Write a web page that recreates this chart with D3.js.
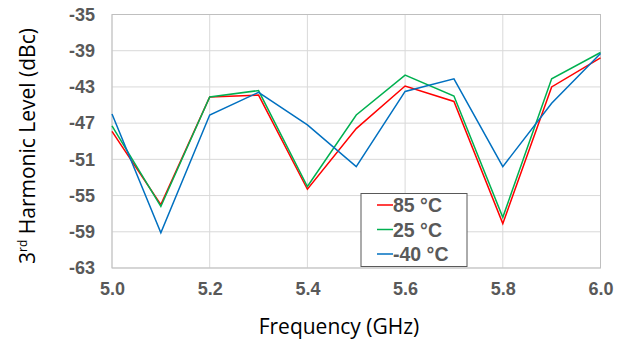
<!DOCTYPE html>
<html>
<head>
<meta charset="utf-8">
<script src="https://cdn.jsdelivr.net/npm/d3@7"></script>
<style>
  body { margin: 0; background: #fff; }
  svg { display: block; }
</style>
</head>
<body>
<div id="chart"></div>
<script>
// Data
const freqs = [5.0, 5.1, 5.2, 5.3, 5.4, 5.5, 5.6, 5.7, 5.8, 5.9, 6.0];
const red85 = [-47.9, -56.0, -44.1, -43.9, -54.3, -47.6, -42.9, -44.6, -58.1, -43.0, -39.8];
const green25 = [-47.3, -56.2, -44.1, -43.4, -54.0, -46.1, -41.7, -44.0, -57.4, -42.1, -39.2];
const blue40 = [-46.0, -59.1, -46.1, -43.6, -47.2, -51.8, -43.5, -42.1, -51.8, -44.8, -39.3];
const seriesNames = ["85 °C", "25 °C", "-40 °C"];
const xTicks = [5.0, 5.2, 5.4, 5.6, 5.8, 6.0];
const yTicks = [-35, -39, -43, -47, -51, -55, -59, -63];

const series = [
  { name: seriesNames[0], values: red85, color: "#ff0000" },
  { name: seriesNames[1], values: green25, color: "#00b050" },
  { name: seriesNames[2], values: blue40, color: "#0070c0" },
];

// Dimensions
const dimensions = {
  width: 628,
  height: 343,
  left: 112,
  right: 600.5,
  top: 14.5,
  bottom: 268,
};

const svg = d3
  .select("#chart")
  .append("svg")
  .attr("width", dimensions.width)
  .attr("height", dimensions.height);

// Scales
const xScale = d3.scaleLinear().domain([5.0, 6.0]).range([dimensions.left, dimensions.right]);
const yScale = d3.scaleLinear().domain([-63, -35]).range([dimensions.bottom, dimensions.top]);

// Gridlines
svg
  .append("g")
  .selectAll("line.h")
  .data(yTicks)
  .join("line")
  .attr("x1", dimensions.left)
  .attr("x2", dimensions.right)
  .attr("y1", (d) => yScale(d))
  .attr("y2", (d) => yScale(d))
  .attr("stroke", "#d9d9d9")
  .attr("stroke-width", 1);

svg
  .append("g")
  .selectAll("line.v")
  .data(xTicks)
  .join("line")
  .attr("x1", (d) => xScale(d))
  .attr("x2", (d) => xScale(d))
  .attr("y1", dimensions.top)
  .attr("y2", dimensions.bottom)
  .attr("stroke", "#d9d9d9")
  .attr("stroke-width", 1);

// Plot border
svg
  .append("rect")
  .attr("x", dimensions.left)
  .attr("y", dimensions.top)
  .attr("width", dimensions.right - dimensions.left)
  .attr("height", dimensions.bottom - dimensions.top)
  .attr("fill", "none")
  .attr("stroke", "#bfbfbf")
  .attr("stroke-width", 1);

// Axes
const xAxis = d3.axisBottom(xScale).tickValues(xTicks).tickFormat(d3.format(".1f")).tickSize(0).tickPadding(14);
const yAxis = d3.axisLeft(yScale).tickValues(yTicks).tickFormat((d) => d).tickSize(0).tickPadding(17);

const gx = svg.append("g").attr("transform", `translate(0, ${dimensions.bottom})`).call(xAxis);
const gy = svg.append("g").attr("transform", `translate(${dimensions.left}, 0)`).call(yAxis);

[gx, gy].forEach((g) => {
  g.select(".domain").remove();
  g.selectAll("text")
    .attr("fill", "#595959")
    .style("font-family", "'Liberation Sans', Arial, sans-serif")
    .style("font-weight", "bold")
    .style("font-size", "18px");
});

// Lines
const line = d3
  .line()
  .x((d, i) => xScale(freqs[i]))
  .y((d) => yScale(d));

svg
  .append("g")
  .selectAll("path")
  .data(series)
  .join("path")
  .attr("d", (d) => line(d.values))
  .attr("fill", "none")
  .attr("stroke", (d) => d.color)
  .attr("stroke-width", 1.5);

// Axis titles
svg
  .append("text")
  .attr("x", 339)
  .attr("y", 334)
  .attr("text-anchor", "middle")
  .attr("fill", "#000")
  .style("font-family", "'Open Sans', sans-serif")
  .style("font-size", "21px")
  .text("Frequency (GHz)");

const yTitle = svg
  .append("text")
  .attr("transform", `translate(35, 146) rotate(-90)`)
  .attr("text-anchor", "middle")
  .attr("fill", "#000")
  .style("font-family", "'Open Sans', sans-serif")
  .style("font-size", "21px");
yTitle.append("tspan").text("3");
yTitle.append("tspan").attr("dy", -8).style("font-size", "12px").text("rd");
yTitle.append("tspan").attr("dy", 8).text(" Harmonic Level (dBc)");

// Legend
const legend = svg.append("g");
legend
  .append("rect")
  .attr("x", 361)
  .attr("y", 193.5)
  .attr("width", 106)
  .attr("height", 73)
  .attr("fill", "#fff")
  .attr("stroke", "#595959")
  .attr("stroke-width", 1);

const rows = legend
  .selectAll("g.row")
  .data(series)
  .join("g")
  .attr("transform", (d, i) => `translate(0, ${205 + i * 24.5})`);

rows
  .append("line")
  .attr("x1", 377)
  .attr("x2", 393)
  .attr("y1", 0)
  .attr("y2", 0)
  .attr("stroke", (d) => d.color)
  .attr("stroke-width", 1.5);

rows
  .append("text")
  .attr("x", 393)
  .attr("y", 7)
  .attr("fill", "#595959")
  .style("font-family", "'Liberation Sans', Arial, sans-serif")
  .style("font-weight", "bold")
  .style("font-size", "19.5px")
  .text((d) => d.name);
</script>
</body>
</html>
